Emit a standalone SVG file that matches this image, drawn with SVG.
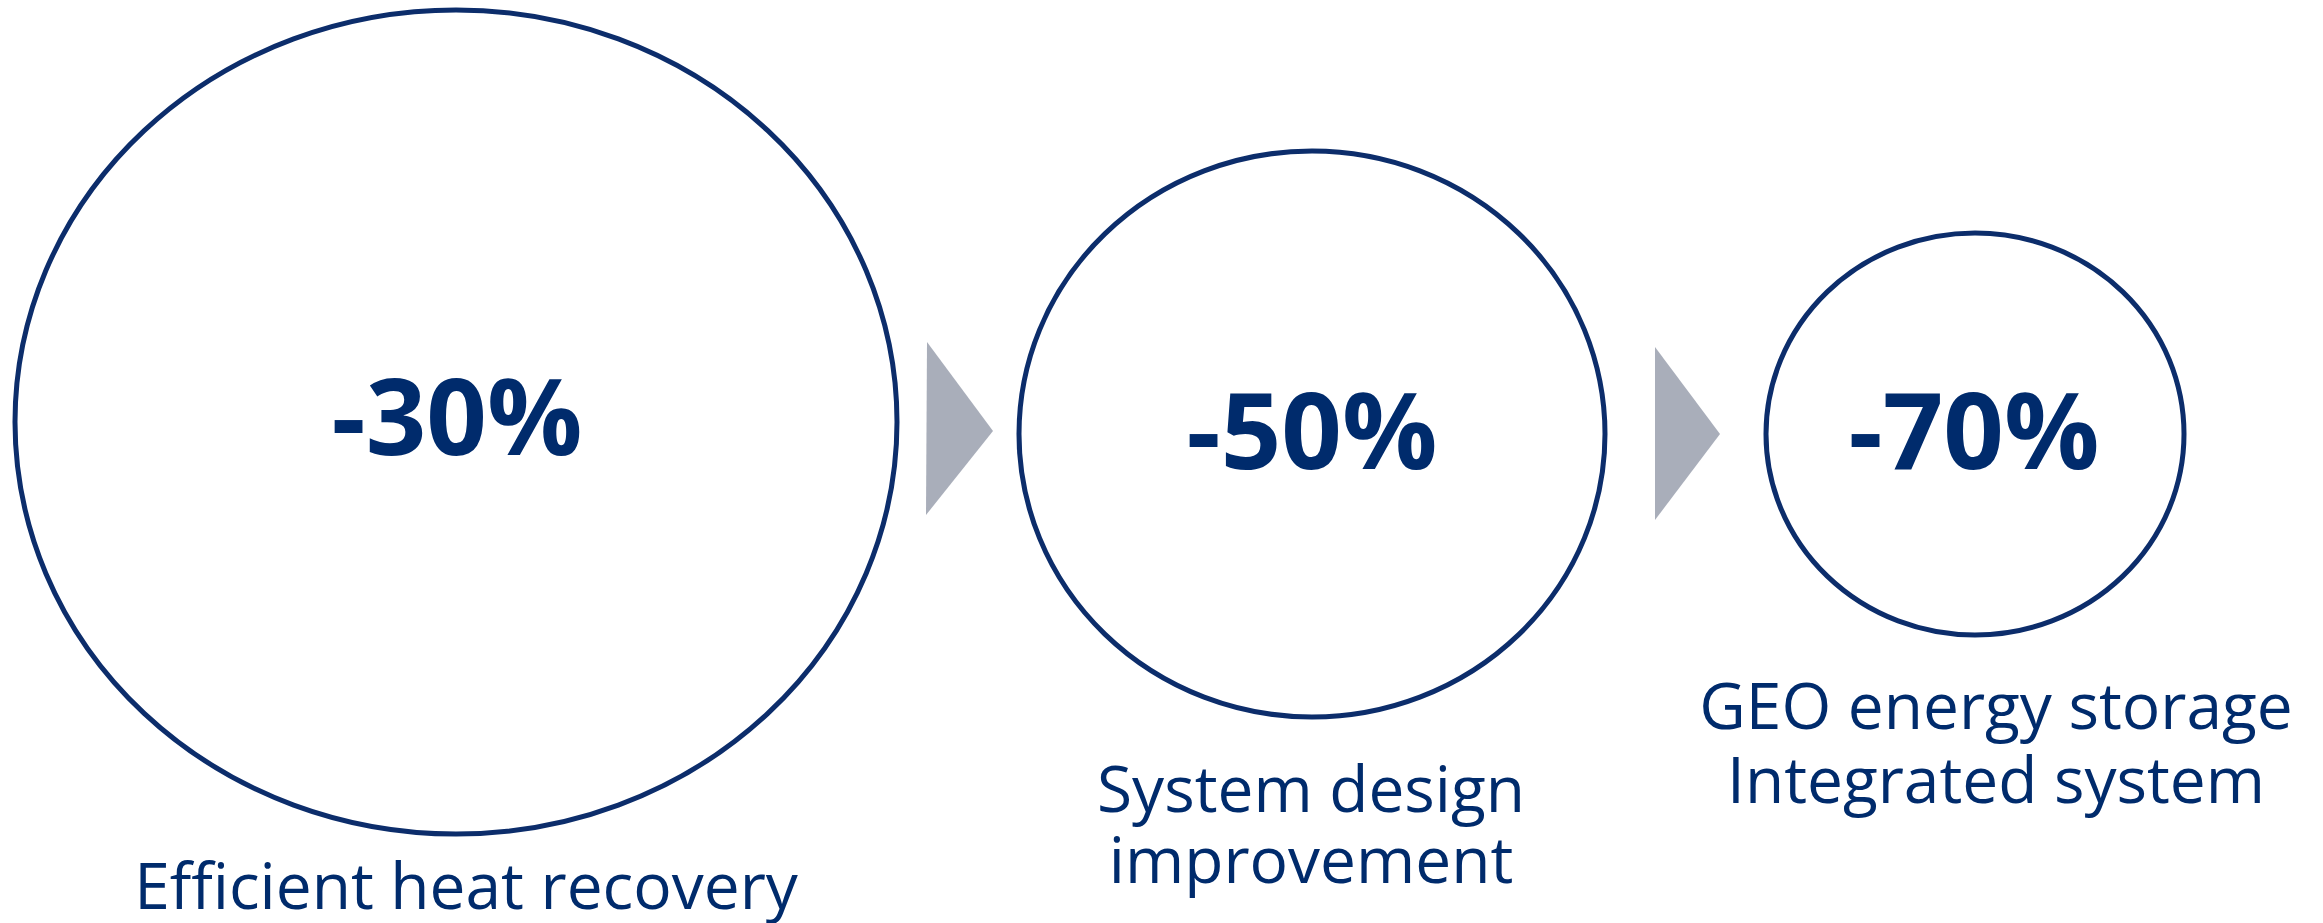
<svg xmlns="http://www.w3.org/2000/svg" width="2323" height="923" viewBox="0 0 2323 923">
<style>
.ring{fill:#ffffff;stroke:#0c2d6b;stroke-width:5}
.big{font-family:"Open Sans","Liberation Sans",sans-serif;font-weight:700;font-size:106px;fill:#002b6c;text-anchor:middle}
.lbl{font-family:"Open Sans","Liberation Sans",sans-serif;font-weight:400;font-size:64px;fill:#002b6c;text-anchor:middle}
.arr{fill:#a9aeba}
</style>
<rect width="2323" height="923" fill="#ffffff"/>
<g id="connectors">
<polygon class="arr" points="927,342 993,431 926,515"/>
<polygon class="arr" points="1655,347 1720,434 1655,520"/>
</g>
<g id="node1">
<ellipse class="ring" cx="456" cy="422" rx="441" ry="412"/>
<text class="big" x="457" y="455">-30%</text>
<text class="lbl" x="466" y="909">Efficient heat recovery</text>
</g>
<g id="node2">
<ellipse class="ring" cx="1312" cy="434" rx="293" ry="283"/>
<text class="big" x="1312" y="469">-50%</text>
<text class="lbl" x="1311" y="812">System design</text>
<text class="lbl" x="1311" y="883">improvement</text>
</g>
<g id="node3">
<ellipse class="ring" cx="1975" cy="434" rx="209" ry="201"/>
<text class="big" x="1974" y="469">-70%</text>
<text class="lbl" x="1996" y="729">GEO energy storage</text>
<text class="lbl" x="1996" y="803">Integrated system</text>
</g>
</svg>
